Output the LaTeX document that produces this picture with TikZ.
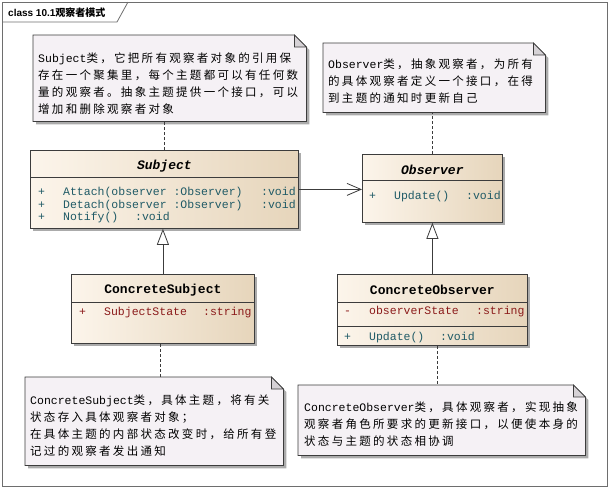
\documentclass[tikz,border=0pt]{standalone}
\usepackage{fontspec}
\setmonofont{Liberation Mono}
\newfontfamily\cjk[LetterSpace=20]{Noto Sans CJK SC}
\newfontfamily\titlefont{Liberation Sans}
\newfontfamily\titlecjk{Noto Sans CJK SC}
\usetikzlibrary{arrows.meta,shadows}
\definecolor{cremaC}{HTML}{FCF5EB}
\definecolor{tostadoC}{HTML}{E6D5BB}
\definecolor{lilaN}{HTML}{F5F1F5}
\definecolor{plieguN}{HTML}{D6D2D6}
\definecolor{grisS}{HTML}{ABABAB}
\definecolor{bordeG}{HTML}{3C3C3C}
\definecolor{marcoG}{HTML}{6E6E6E}
\definecolor{tealOp}{HTML}{1F5A66}
\definecolor{rojoAt}{HTML}{8B1A1A}

% nota con esquina doblada
\newcommand{\notaUML}[1]{%
  \fill[grisS] ([shift={(3pt,-3pt)}]#1.north west) -- ([shift={(-9pt,-3pt)}]#1.north east)
    -- ([shift={(3pt,-15pt)}]#1.north east) -- ([shift={(3pt,-3pt)}]#1.south east)
    -- ([shift={(3pt,-3pt)}]#1.south west) -- cycle;
  \filldraw[fill=lilaN,draw=bordeG,line width=.8pt] (#1.north west) -- ([xshift=-12pt]#1.north east)
    -- ([yshift=-12pt]#1.north east) -- (#1.south east) -- (#1.south west) -- cycle;
  \filldraw[fill=plieguN,draw=bordeG,line width=.8pt] ([xshift=-12pt]#1.north east)
    -- ([xshift=-12pt,yshift=-12pt]#1.north east) -- ([yshift=-12pt]#1.north east) -- cycle;
}

\begin{document}
\begin{tikzpicture}[x=1pt,y=-1pt,
  notabox/.style={inner sep=0,anchor=north west},
  clase/.style={draw=bordeG,line width=.8pt,inner sep=0,anchor=north west,
    left color=cremaC,right color=tostadoC,
    drop shadow={shadow xshift=3pt,shadow yshift=-3pt,fill=grisS,opacity=1}},
  nombre/.style={font=\ttfamily\bfseries\fontsize{13}{15}\selectfont,inner sep=0},
  fila/.style={font=\ttfamily\fontsize{11.5}{12.5}\selectfont,text=tealOp,anchor=west,inner sep=0},
  texto/.style={font=\cjk\fontsize{11.5}{16.8}\selectfont,align=left,anchor=north west,inner sep=0},
  enlace/.style={bordeG,line width=.8pt,dash pattern=on 3pt off 2pt},
  hereda/.style={bordeG,line width=.8pt,-{Triangle[open,length=16pt,width=12pt,fill=white]}},
  asoc/.style={bordeG,line width=.8pt,-{Straight Barb[length=14pt,width=12pt]}}]
  \useasboundingbox (0,0) rectangle (611,490);
  \draw[marcoG,line width=.8pt] (2,2) rectangle (607,486);
  \draw[marcoG,line width=.8pt] (2,22) -- (117,22) -- (128,2);
  \node[anchor=west,inner sep=0] (titulo) at (8,13)
    {\titlefont\bfseries\fontsize{10}{12}\selectfont class 10.1\titlecjk 观察者模式};

  % notas
  \node[notabox,minimum width=273pt,minimum height=86pt] (nSubject) at (33,35) {};
  \node[notabox,minimum width=222pt,minimum height=69pt] (nObserver) at (323,43) {};
  \node[notabox,minimum width=258pt,minimum height=88pt] (nCSubject) at (25,377) {};
  \node[notabox,minimum width=287pt,minimum height=70pt] (nCObserver) at (298,385) {};
  \notaUML{nSubject}
  \notaUML{nObserver}
  \notaUML{nCSubject}
  \notaUML{nCObserver}
  \node[texto] (tSubject) at (38,53) {\texttt{Subject}类，它把所有观察者对象的引用保\\
    存在一个聚集里，每个主题都可以有任何数\\量的观察者。抽象主题提供一个接口，可以\\增加和删除观察者对象};
  \node[texto] (tObserver) at (328,59) {\texttt{Observer}类，抽象观察者，为所有\\
    的具体观察者定义一个接口，在得\\到主题的通知时更新自己};
  \node[texto] (tCSubject) at (30,395) {\texttt{ConcreteSubject}类，具体主题，将有关\\
    状态存入具体观察者对象；\\在具体主题的内部状态改变时，给所有登\\记过的观察者发出通知};
  \node[texto] (tCObserver) at (304,402) {\texttt{ConcreteObserver}类，具体观察者，实现抽象\\
    观察者角色所要求的更新接口，以便使本身的\\状态与主题的状态相协调};

  % clases
  \node[clase,minimum width=268pt,minimum height=78pt] (subj) at (30,150) {};
  \node[clase,minimum width=140pt,minimum height=68pt] (obs) at (362,154) {};
  \node[clase,minimum width=183pt,minimum height=69pt] (csub) at (71,274) {};
  \node[clase,minimum width=190pt,minimum height=71pt] (cobs) at (337,274) {};
  \draw[bordeG,line width=.8pt] ([yshift=-27pt]subj.north west) -- ([yshift=-27pt]subj.north east);
  \draw[bordeG,line width=.8pt] ([yshift=-26pt]obs.north west) -- ([yshift=-26pt]obs.north east);
  \draw[bordeG,line width=.8pt] ([yshift=-28pt]csub.north west) -- ([yshift=-28pt]csub.north east);
  \draw[bordeG,line width=.8pt] ([yshift=-28pt]cobs.north west) -- ([yshift=-28pt]cobs.north east);
  \draw[bordeG,line width=.8pt] ([yshift=-52pt]cobs.north west) -- ([yshift=-52pt]cobs.north east);

  \node[nombre] (subjN) at ([yshift=-16pt]subj.north) {\textit{Subject}};
  \node[nombre] (obsN) at ([yshift=-16pt]obs.north) {\textit{Observer}};
  \node[nombre] (csubN) at ([yshift=-16.5pt]csub.north) {ConcreteSubject};
  \node[nombre] (cobsN) at ([yshift=-15.5pt]cobs.north) {ConcreteObserver};

  \node[fila] (subjOp1) at (38,193) {\makebox[25pt][l]{+}\makebox[198pt][l]{Attach(observer :Observer)}:void};
  \node[fila] (subjOp2) at (38,205.5) {\makebox[25pt][l]{+}\makebox[198pt][l]{Detach(observer :Observer)}:void};
  \node[fila] (subjOp3) at (38,218) {\makebox[25pt][l]{+}\makebox[72pt][l]{Notify()}:void};
  \node[fila] (obsOp1) at (369,197) {\makebox[25pt][l]{+}\makebox[72pt][l]{Update()}:void};
  \node[fila,text=rojoAt] (csubAt1) at (79,313) {\makebox[25pt][l]{+}\makebox[99pt][l]{SubjectState}:string};
  \node[fila,text=rojoAt] (cobsAt1) at (344,312) {\makebox[25pt][l]{-}\makebox[107pt][l]{observerState}:string};
  \node[fila] (cobsOp1) at (344,338) {\makebox[25pt][l]{+}\makebox[71pt][l]{Update()}:void};

  % relaciones
  \draw[enlace] (subj.north) -- (subj.north |- nSubject.south);
  \draw[enlace] (obs.north) -- (obs.north |- nObserver.south);
  \draw[enlace] ([xshift=-3pt]csub.south) -- ([xshift=-3pt]csub.south |- nCSubject.north);
  \draw[enlace] ([xshift=5pt]cobs.south) -- ([xshift=5pt]cobs.south |- nCObserver.north);
  \draw[hereda] (csub.north) -- (csub.north |- subj.south);
  \draw[hereda] (cobs.north) -- (cobs.north |- obs.south);
  \draw[asoc] (subj.east) -- (subj.east -| obs.west);
\end{tikzpicture}
\end{document}
